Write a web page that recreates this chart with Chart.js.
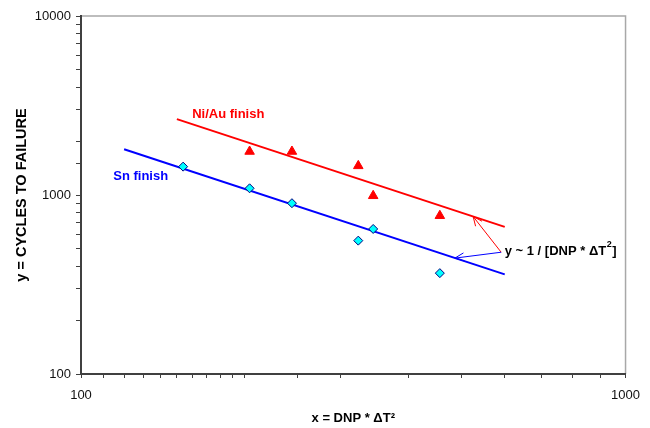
<!DOCTYPE html>
<html>
<head>
<meta charset="utf-8">
<script src="https://cdn.jsdelivr.net/npm/chart.js@4.4.1/dist/chart.umd.min.js"></script>
<style>
  html, body { margin: 0; padding: 0; background: #fff; }
  #wrap { width: 650px; height: 428px; }
</style>
</head>
<body>
<div id="wrap"><canvas id="chart" width="650" height="428"></canvas></div>
<script>
// Sn finish measurements
const snX = [154, 204, 244, 323, 344, 456];
const snY = [1440, 1090, 900, 556, 646, 366];
// Ni/Au finish measurements
const niX = [204, 244, 323, 344, 456];
const niY = [1750, 1750, 1455, 990, 766];
// y ~ 1/x fit lines (end points)
const snFitX = [120, 600];
const snFitY = [1800, 360];
const niFitX = [150, 600];
const niFitY = [2655, 664];
// axis ranges and the ticks that carry a label
const xRange = [100, 1000];
const yRange = [100, 10000];
const xTickLabels = [100, 1000];
const yTickLabels = [100, 1000, 10000];
// annotation anchors, in data units
const niLabelAt = [160, 2830];
const snLabelAt = [114.6, 1276];
const fitLabelAt = [600, 487];
const arrowTail = [591, 479];
const arrowTips = [[525, 758], [486, 444]];

const FONT = 'Arial, "Liberation Sans", Helvetica, sans-serif';

const toPoints = (xs, ys) => xs.map((x, i) => ({ x: x, y: ys[i] }));

function toPx(chart, p) {
    return [chart.scales.x.getPixelForValue(p[0]), chart.scales.y.getPixelForValue(p[1])];
}

function drawArrow(ctx, from, to, color) {
    ctx.strokeStyle = color;
    ctx.lineWidth = 1;
    ctx.beginPath();
    ctx.moveTo(from[0], from[1]);
    ctx.lineTo(to[0], to[1]);
    ctx.stroke();
    const a = Math.atan2(to[1] - from[1], to[0] - from[0]);
    const len = 10, spread = 0.42;
    ctx.beginPath();
    ctx.moveTo(to[0] - len * Math.cos(a - spread), to[1] - len * Math.sin(a - spread));
    ctx.lineTo(to[0], to[1]);
    ctx.lineTo(to[0] - len * Math.cos(a + spread), to[1] - len * Math.sin(a + spread));
    ctx.stroke();
}

// gray top/right frame, drawn before the axes so the dark axis lines sit on top
const framePlugin = {
    id: 'frame',
    beforeDraw(chart) {
        const { ctx, chartArea: a } = chart;
        ctx.save();
        ctx.strokeStyle = '#a8a8a8';
        ctx.lineWidth = 1.5;
        ctx.beginPath();
        ctx.moveTo(a.left, a.top);
        ctx.lineTo(a.right, a.top);
        ctx.lineTo(a.right, a.bottom);
        ctx.stroke();
        ctx.restore();
    }
};

const notesPlugin = {
    id: 'notes',
    afterDatasetsDraw(chart) {
        const ctx = chart.ctx;
        ctx.save();
        ctx.font = 'bold 13px ' + FONT;
        ctx.textBaseline = 'middle';
        ctx.textAlign = 'left';

        let p = toPx(chart, niLabelAt);
        ctx.fillStyle = '#ff0000';
        ctx.fillText('Ni/Au finish', p[0], p[1]);

        p = toPx(chart, snLabelAt);
        ctx.fillStyle = '#0000ff';
        ctx.fillText('Sn finish', p[0], p[1]);

        const tail = toPx(chart, arrowTail);
        drawArrow(ctx, tail, toPx(chart, arrowTips[0]), '#ff0000');
        drawArrow(ctx, tail, toPx(chart, arrowTips[1]), '#0000ff');

        // y ~ 1 / [DNP * ΔT²] with a real superscript
        p = toPx(chart, fitLabelAt);
        ctx.fillStyle = '#000';
        let x = p[0];
        const head = 'y ~ 1 / [DNP * \u0394T';
        ctx.fillText(head, x, p[1]);
        x += ctx.measureText(head).width;
        ctx.font = 'bold 9px ' + FONT;
        ctx.fillText('2', x + 0.5, p[1] - 6);
        x += ctx.measureText('2').width + 1;
        ctx.font = 'bold 13px ' + FONT;
        ctx.fillText(']', x, p[1]);
        ctx.restore();
    }
};

new Chart(document.getElementById('chart'), {
    type: 'scatter',
    data: {
        datasets: [
            {
                label: 'Sn finish',
                data: toPoints(snX, snY),
                pointStyle: 'rectRot',
                pointRadius: 4.5,
                pointBackgroundColor: '#00ffff',
                pointBorderColor: '#000080',
                pointBorderWidth: 1
            },
            {
                label: 'Ni/Au finish',
                data: toPoints(niX, niY),
                pointStyle: 'triangle',
                pointRadius: 5.5,
                pointBackgroundColor: '#ff0000',
                pointBorderColor: '#ff0000',
                pointBorderWidth: 1
            },
            {
                label: 'Ni/Au fit',
                data: toPoints(niFitX, niFitY),
                showLine: true,
                pointRadius: 0,
                borderColor: '#ff0000',
                borderWidth: 2
            },
            {
                label: 'Sn fit',
                data: toPoints(snFitX, snFitY),
                showLine: true,
                pointRadius: 0,
                borderColor: '#0000ff',
                borderWidth: 2
            }
        ]
    },
    options: {
        responsive: false,
        animation: false,
        events: [],
        layout: { padding: { top: 16, right: 24, left: 10, bottom: 0 } },
        plugins: {
            legend: { display: false },
            tooltip: { enabled: false }
        },
        scales: {
            x: {
                type: 'logarithmic',
                min: xRange[0],
                max: xRange[1],
                afterFit: s => { s.height = 54; },
                ticks: {
                    autoSkip: false,
                    maxRotation: 0,
                    padding: 10,
                    color: '#111',
                    font: { family: FONT, size: 13 },
                    callback: v => xTickLabels.includes(v) ? String(v) : ''
                },
                grid: { drawOnChartArea: false, tickLength: 4, color: '#404040' },
                border: { color: '#404040', width: 2 },
                title: {
                    display: true,
                    text: 'x = DNP * \u0394T\u00b2',
                    color: '#000',
                    font: { family: FONT, size: 13, weight: 'bold' },
                    padding: { top: 4, bottom: 2 }
                }
            },
            y: {
                type: 'logarithmic',
                min: yRange[0],
                max: yRange[1],
                afterFit: s => { s.width = 71; },
                ticks: {
                    autoSkip: false,
                    padding: 5,
                    color: '#111',
                    font: { family: FONT, size: 13 },
                    callback: v => yTickLabels.includes(v) ? String(v) : ''
                },
                grid: { drawOnChartArea: false, tickLength: 5, color: '#404040' },
                border: { color: '#404040', width: 2 },
                title: {
                    display: true,
                    text: 'y = CYCLES TO FAILURE',
                    color: '#000',
                    font: { family: FONT, size: 14.5, weight: 'bold' },
                    padding: { top: 3, bottom: 4 }
                }
            }
        }
    },
    plugins: [framePlugin, notesPlugin]
});
</script>
</body>
</html>
